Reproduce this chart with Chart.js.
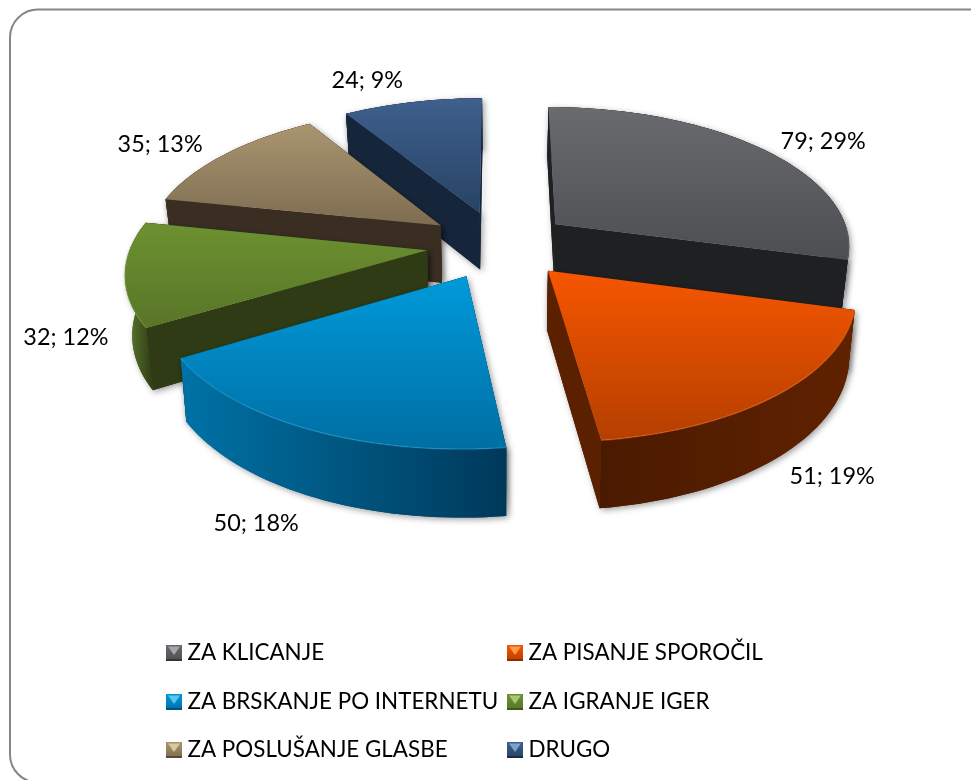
<!DOCTYPE html>
<html>
<head>
<meta charset="utf-8">
<style>html,body{margin:0;padding:0;background:#fff;overflow:hidden}#wrap{width:971px;height:780px}</style>
<script src="https://cdn.jsdelivr.net/npm/chart.js@4/dist/chart.umd.min.js"></script>
</head>
<body>
<div id="wrap"><canvas id="c" width="971" height="780"></canvas></div>
<script>
const categories = ['ZA KLICANJE','ZA PISANJE SPOROČIL','ZA BRSKANJE PO INTERNETU','ZA IGRANJE IGER','ZA POSLUŠANJE GLASBE','DRUGO'];
const counts = [79,51,50,32,35,24];
const percents = [29,19,18,12,13,9];

const topLight  = ['#6a6b6f','#f65600','#009ada','#6d9131','#a9956f','#3f608d'];
const topDark   = ['#4d4e52','#b53f00','#006ea3','#587527','#7e6c52','#274263'];
const radialWall= ['#1f2022','#5a2000','#004060','#2e3b14','#3a2e23','#16263a'];
const arcLeft   = ['#2a2b2d','#4a1a00','#0072a6','#5f8030','#4a3c2e','#1c2f47'];
const arcRight  = ['#1f2022','#602200','#00395a','#2e3b14','#3a2e23','#101c2c'];
const rimLight  = ['#7a7b80','#ff7a2a','#2cb4ea','#84a845','#bba882','#5578a8'];
const legendGlow= ['#a5a6a9','#ff9a4a','#55c8f0','#a8c870','#d8c8a0','#7f9fcf'];

const labelShift = [[60,-8],[54,82],[-52,94],[-59,63],[-64,-10],[-45,-22]];
const legendRows = [653,702,750];
const legendCols = [166,507];

const view = {cx:499, cy:244.6, a:296, b:139, k:.14, depthY:58, a2:290, b2:145.5, k2:.143};
const LABEL_FONT = '23.4px Lato, Carlito, sans-serif';
const LEGEND_FONT = '22.4px Lato, Carlito, sans-serif';

function pTop(X,Y){const w=1-view.k*Y;return [view.cx+view.a*X/w, view.cy+view.b*Y/w];}
function pBot(X,Y){const w=1-view.k2*Y;return [view.cx+view.a2*X/w, view.cy+view.depthY+view.b2*Y/w];}

function poly(ctx,pts){ctx.beginPath();pts.forEach((p,i)=>i?ctx.lineTo(p[0],p[1]):ctx.moveTo(p[0],p[1]));ctx.closePath();}

function sliceGeometry(arc){
  const g=arc.getProps(['startAngle','endAngle','outerRadius'],true);
  const e=(arc.options.offset||0)/g.outerRadius;
  const mid=(g.startAngle+g.endAngle)/2;
  const ox=Math.cos(mid)*e, oy=Math.sin(mid)*e;
  const steps=Math.max(8,Math.ceil((g.endAngle-g.startAngle)/0.03));
  const rim=[];
  for(let i=0;i<=steps;i++){
    const t=g.startAngle+(g.endAngle-g.startAngle)*i/steps;
    rim.push([ox+Math.cos(t),oy+Math.sin(t)]);
  }
  return {ox,oy,rim,mid,e};
}

const pie3d={
  id:'pie3d',
  beforeDraw(chart){
    const ctx=chart.ctx;
    ctx.save();
    ctx.fillStyle='#fff';ctx.fillRect(0,0,chart.width,chart.height);
    ctx.strokeStyle='#868686';ctx.lineWidth=2;
    ctx.beginPath();ctx.roundRect(10,9.5,990,773,28);ctx.stroke();
    ctx.restore();
  },
  beforeDatasetsDraw(chart){
    const ctx=chart.ctx;
    const arcs=chart.getDatasetMeta(0).data;
    const items=arcs.map((a,i)=>({i,g:sliceGeometry(a)}));
    items.sort((p,q)=>p.g.oy-q.g.oy);
    items.forEach(({i,g})=>{
      const apexT=pTop(g.ox,g.oy),apexB=pBot(g.ox,g.oy);
      const rimT=g.rim.map(p=>pTop(p[0],p[1])),rimB=g.rim.map(p=>pBot(p[0],p[1]));
      const n=rimT.length-1;
      const wallS=[apexT,rimT[0],rimB[0],apexB];
      const wallE=[apexT,rimT[n],rimB[n],apexB];
      const wallA=rimT.concat(rimB.slice().reverse());
      const xs=wallA.map(p=>p[0]);
      const gradA=ctx.createLinearGradient(Math.min(...xs),0,Math.max(...xs),0);
      gradA.addColorStop(0,arcLeft[i]);gradA.addColorStop(1,arcRight[i]);
      const avgY=w=>w.reduce((s,p)=>s+p[1],0)/w.length;
      const walls=[{w:wallS,f:radialWall[i]},{w:wallE,f:radialWall[i]},{w:wallA,f:gradA}];
      walls.sort((p,q)=>avgY(p.w)-avgY(q.w));
      ctx.save();
      ctx.shadowColor='rgba(0,0,0,.38)';ctx.shadowBlur=6;ctx.shadowOffsetX=2;ctx.shadowOffsetY=2;
      walls.forEach(o=>{ctx.fillStyle=o.f;poly(ctx,o.w);ctx.fill();});
      ctx.restore();
      walls.forEach(o=>{ctx.fillStyle=o.f;poly(ctx,o.w);ctx.fill();});
      const face=[apexT].concat(rimT);
      const ys=face.map(p=>p[1]);
      const grad=ctx.createLinearGradient(0,Math.min(...ys),0,Math.max(...ys));
      grad.addColorStop(0,topLight[i]);grad.addColorStop(1,topDark[i]);
      ctx.fillStyle=grad;poly(ctx,face);ctx.fill();
      const front=rimT.filter((p,j)=>Math.sin(Math.atan2(g.rim[j][1]-g.oy,g.rim[j][0]-g.ox))>0);
      if(front.length>1){
        ctx.save();
        ctx.strokeStyle=rimLight[i];ctx.globalAlpha=.4;ctx.lineWidth=1.4;
        ctx.beginPath();front.forEach((p,j)=>j?ctx.lineTo(p[0],p[1]):ctx.moveTo(p[0],p[1]));ctx.stroke();
        ctx.restore();
      }
    });
    return false;
  },
  afterDraw(chart){
    const ctx=chart.ctx;
    const arcs=chart.getDatasetMeta(0).data;
    ctx.save();
    ctx.font=LABEL_FONT;ctx.fillStyle='#000';ctx.textAlign='center';ctx.textBaseline='middle';
    arcs.forEach((a,i)=>{
      const g=sliceGeometry(a);
      const p=pTop(g.ox+Math.cos(g.mid),g.oy+Math.sin(g.mid));
      ctx.fillText(counts[i]+'; '+percents[i]+'%',p[0]+labelShift[i][0],p[1]+labelShift[i][1]);
    });
    ctx.font=LEGEND_FONT;ctx.textAlign='left';
    categories.forEach((name,i)=>{
      const x=legendCols[i%2],yc=legendRows[Math.floor(i/2)];
      const bx=x,by=yc-8,s=16;
      const gr=ctx.createLinearGradient(0,by,0,by+s);
      gr.addColorStop(0,topLight[i]);gr.addColorStop(1,topDark[i]);
      ctx.fillStyle=gr;ctx.fillRect(bx,by,s,s);
      ctx.fillStyle=legendGlow[i];
      poly(ctx,[[bx+2,by+1.5],[bx+s-2,by+1.5],[bx+s/2,by+s*.62]]);ctx.fill();
      ctx.fillStyle=arcRight[i];ctx.globalAlpha=.55;
      ctx.fillRect(bx,by+s-2,s,2);ctx.globalAlpha=1;
      ctx.fillStyle='#000';
      ctx.fillText(name,x+21.5,yc);
    });
    ctx.restore();
  }
};

new Chart(document.getElementById('c'),{
  type:'pie',
  data:{labels:categories,datasets:[{data:counts,backgroundColor:topLight,offset:85,borderWidth:0}]},
  options:{
    responsive:false,animation:false,
    layout:{padding:0},
    plugins:{legend:{display:false},tooltip:{enabled:false},title:{display:false}}
  },
  plugins:[pie3d]
});
</script>
</body>
</html>
